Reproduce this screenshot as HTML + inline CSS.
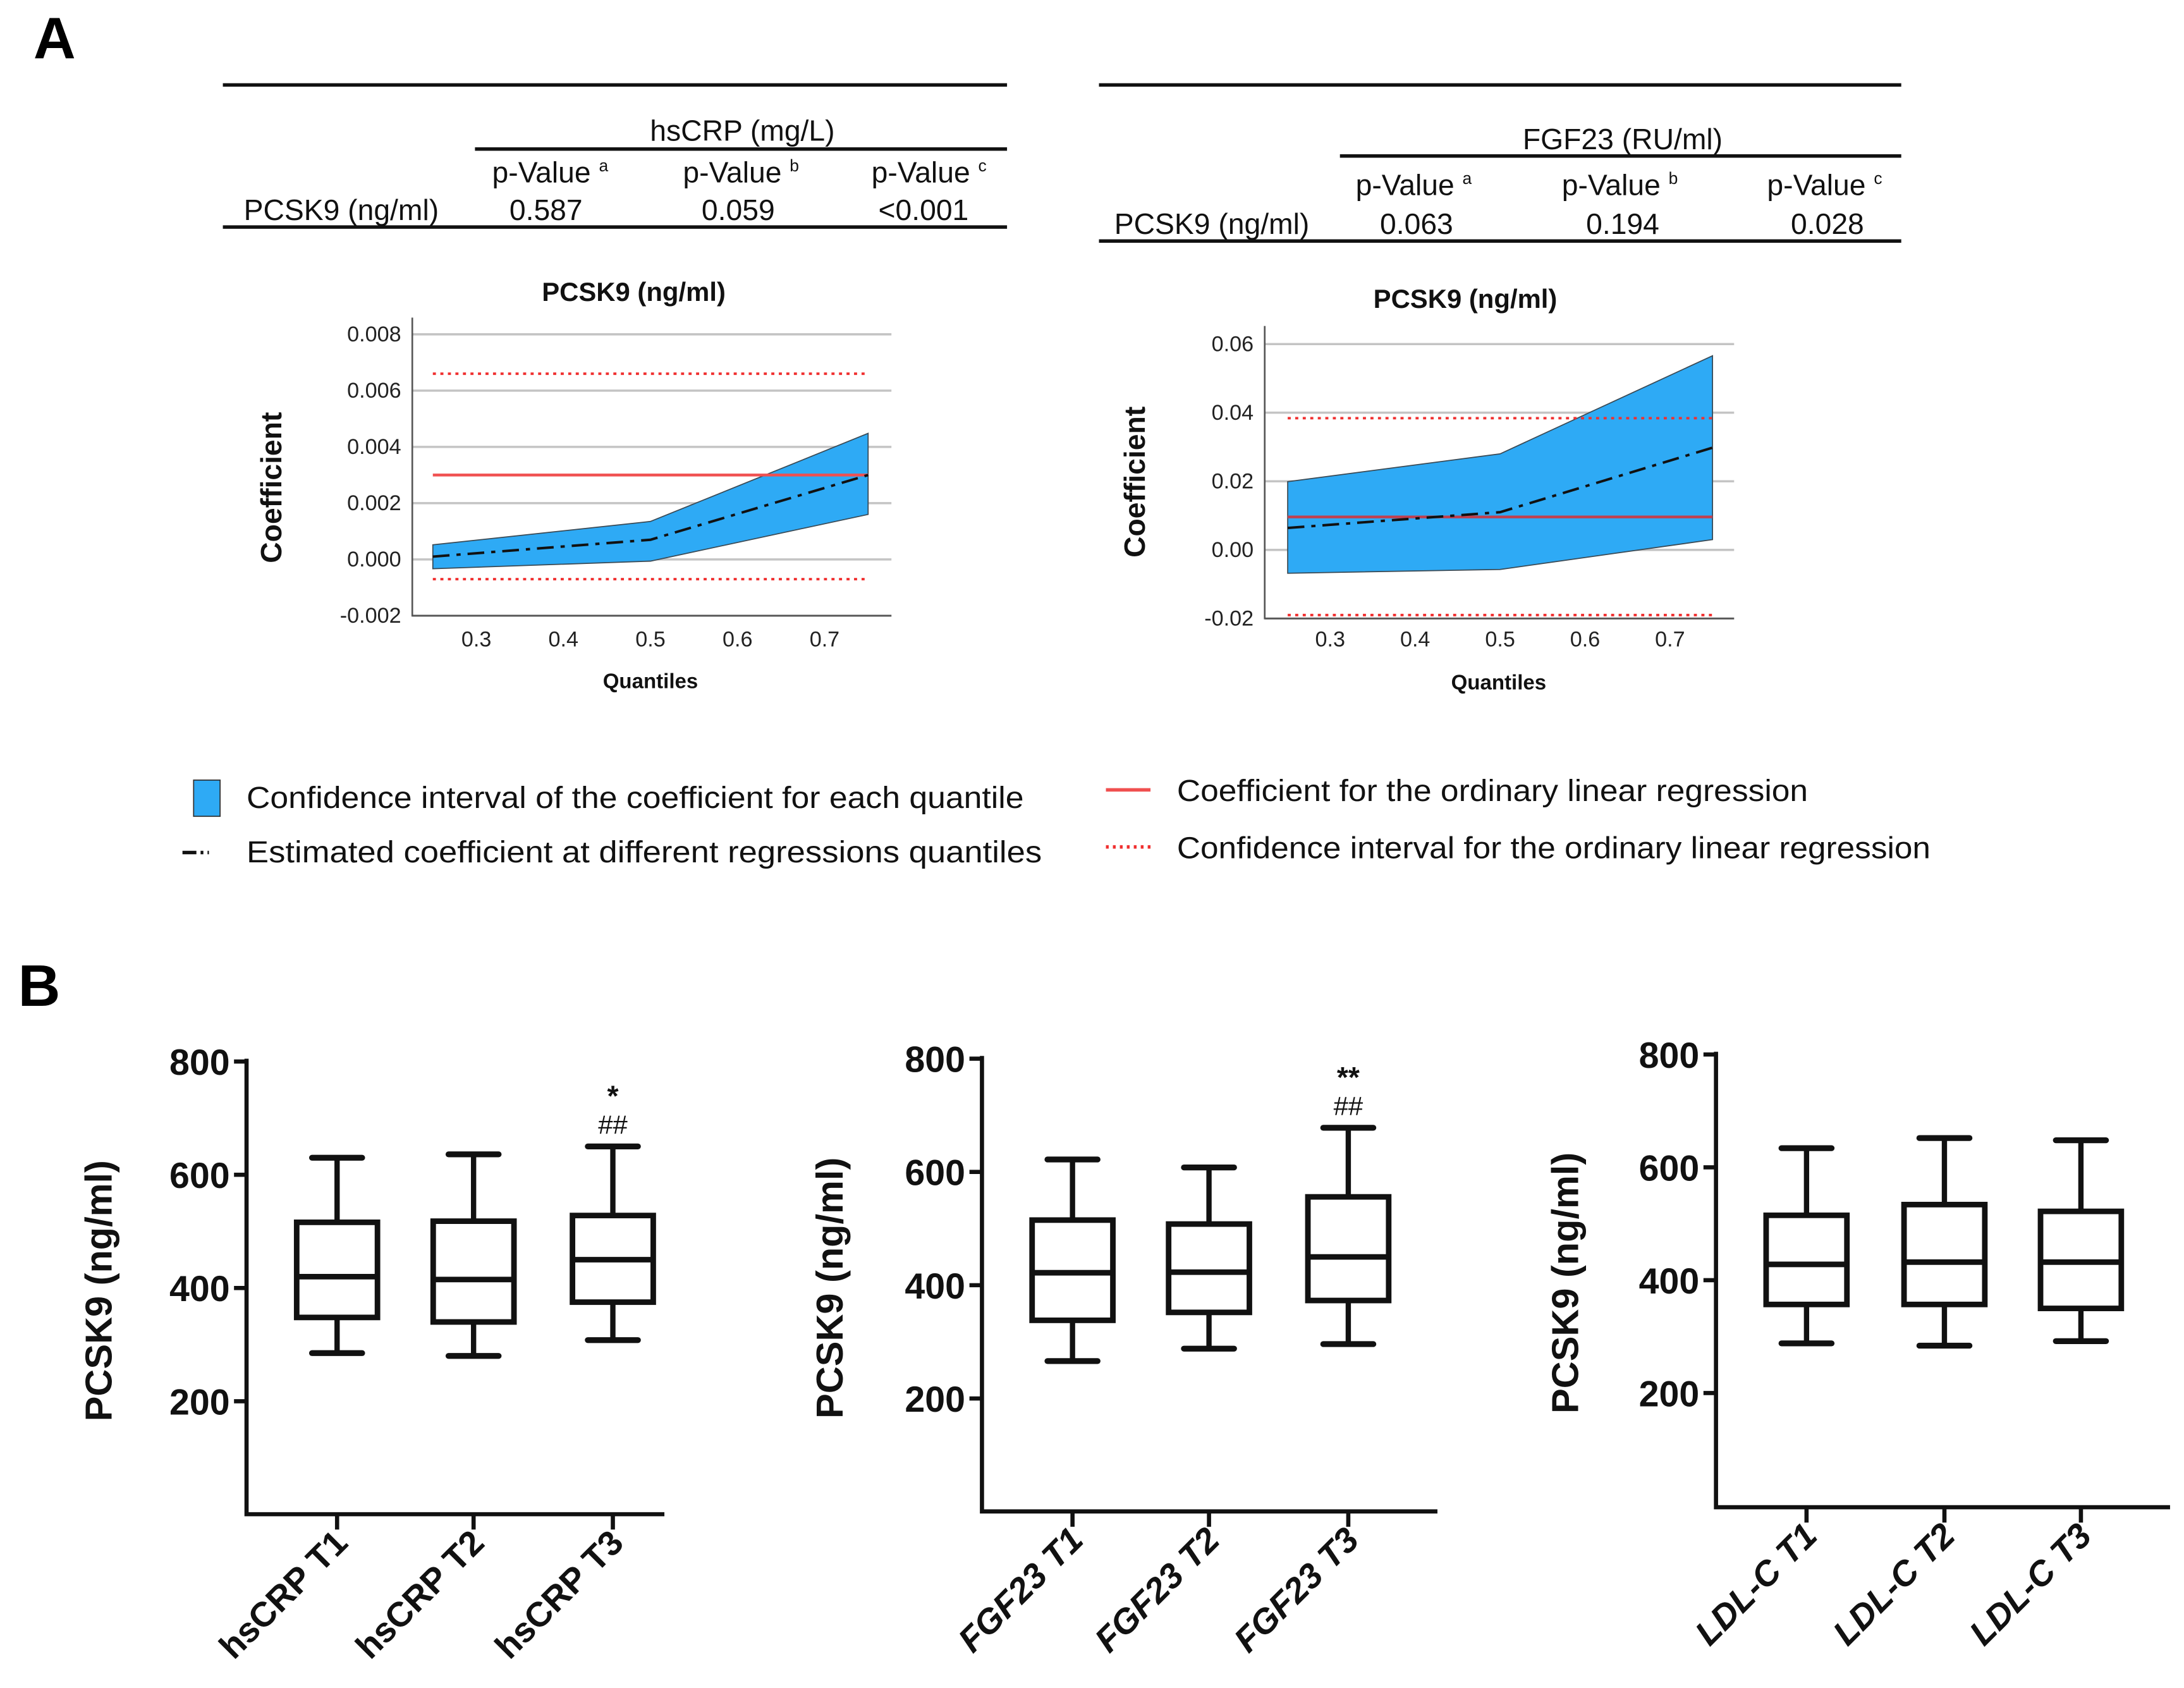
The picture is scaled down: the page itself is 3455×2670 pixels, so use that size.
<!DOCTYPE html>
<html><head><meta charset="utf-8">
<style>
html,body{margin:0;padding:0;background:#fff;}
svg{display:block;}
.t{font-family:"Liberation Sans Narrow","Liberation Sans",sans-serif;}
.b{font-family:"Liberation Sans",sans-serif;font-weight:bold;}
</style></head>
<body>
<svg id="fig" width="3455" height="2670" viewBox="0 0 1568 1211.75" xmlns="http://www.w3.org/2000/svg">
<rect x="0" y="0" width="1568" height="1212" fill="#fff"/>
<text class="b" x="24" y="42" font-size="42">A</text>
<text class="b" x="13" y="722" font-size="42">B</text>

<g class="t" font-size="21" fill="#111">
<line x1="160" y1="61" x2="723" y2="61" stroke="#111" stroke-width="2.5"/>
<text x="533" y="101" text-anchor="middle">hsCRP (mg/L)</text>
<line x1="341" y1="107" x2="723" y2="107" stroke="#111" stroke-width="2.5"/>
<text x="395" y="131" text-anchor="middle">p-Value <tspan font-size="12" dy="-8">a</tspan></text>
<text x="532" y="131" text-anchor="middle">p-Value <tspan font-size="12" dy="-8">b</tspan></text>
<text x="667" y="131" text-anchor="middle">p-Value <tspan font-size="12" dy="-8">c</tspan></text>
<text x="175" y="158">PCSK9 (ng/ml)</text>
<text x="392" y="158" text-anchor="middle">0.587</text>
<text x="530" y="158" text-anchor="middle">0.059</text>
<text x="663" y="158" text-anchor="middle">&lt;0.001</text>
<line x1="160" y1="163" x2="723" y2="163" stroke="#111" stroke-width="2.5"/>
</g>
<g class="t" font-size="21" fill="#111">
<line x1="789" y1="61" x2="1365" y2="61" stroke="#111" stroke-width="2.5"/>
<text x="1165" y="107" text-anchor="middle">FGF23 (RU/ml)</text>
<line x1="962" y1="112" x2="1365" y2="112" stroke="#111" stroke-width="2.5"/>
<text x="1015" y="140" text-anchor="middle">p-Value <tspan font-size="12" dy="-8">a</tspan></text>
<text x="1163" y="140" text-anchor="middle">p-Value <tspan font-size="12" dy="-8">b</tspan></text>
<text x="1310" y="140" text-anchor="middle">p-Value <tspan font-size="12" dy="-8">c</tspan></text>
<text x="800" y="168">PCSK9 (ng/ml)</text>
<text x="1017" y="168" text-anchor="middle">0.063</text>
<text x="1165" y="168" text-anchor="middle">0.194</text>
<text x="1312" y="168" text-anchor="middle">0.028</text>
<line x1="789" y1="173" x2="1365" y2="173" stroke="#111" stroke-width="2.5"/>
</g>

<g id="qr1"></g>
<g id="qr2"></g>

<g class="t" font-size="22" fill="#111">
<g>
<rect x="139" y="560" width="19" height="26" fill="#2eaaf5" stroke="#333" stroke-width="0.8"/>
<text x="177" y="580" textLength="558" lengthAdjust="spacingAndGlyphs">Confidence interval of the coefficient for each quantile</text></g>
<g>
<line x1="131" y1="612" x2="150" y2="612" stroke="#111" stroke-width="2.5" stroke-dasharray="10 3 2 3"/>
<text x="177" y="619" textLength="571" lengthAdjust="spacingAndGlyphs">Estimated coefficient  at different  regressions quantiles</text></g>
<g>
<line x1="794" y1="567" x2="826" y2="567" stroke="#f05050" stroke-width="2.5"/>
<text x="845" y="575" textLength="453" lengthAdjust="spacingAndGlyphs">Coefficient for the ordinary linear regression</text></g>
<g>
<line x1="794" y1="608" x2="826" y2="608" stroke="#f03030" stroke-width="2.5" stroke-dasharray="2 3"/>
<text x="845" y="616" textLength="541" lengthAdjust="spacingAndGlyphs">Confidence interval for the ordinary linear regression</text></g>
</g>

<g id="bp1"></g>
<g id="bp2"></g>
<g id="bp3"></g>
</svg>
<script>
// ---- Quantile regression chart data ----
const qTicks = [0.3, 0.4, 0.5, 0.6, 0.7];
const qPoints = [0.25, 0.5, 0.75];
const hsUpper = [0.00052, 0.00135, 0.00448];
const hsLower = [-0.00033, -0.00006, 0.0016];
const hsEst = [0.0001, 0.0007, 0.003];
const hsOls = 0.003;
const hsOlsCI = [0.0066, -0.0007];
const hsYTicks = [-0.002, 0.000, 0.002, 0.004, 0.006, 0.008];
const hsYLabels = ["-0.002", "0.000", "0.002", "0.004", "0.006", "0.008"];
const fgUpper = [0.0199, 0.028, 0.0566];
const fgLower = [-0.0068, -0.0057, 0.003];
const fgEst = [0.0064, 0.011, 0.0298];
const fgOls = 0.0096;
const fgOlsCI = [0.0384, -0.019];
const fgYTicks = [-0.02, 0.00, 0.02, 0.04, 0.06];
const fgYLabels = ["-0.02", "0.00", "0.02", "0.04", "0.06"];

// ---- Box plot data: [whiskerMax, Q3, median, Q1, whiskerMin] ----
const bpTicks = [200, 400, 600, 800];
const hsCats = ["hsCRP T1", "hsCRP T2", "hsCRP T3"];
const hsBoxes = [[630, 516, 420, 348, 285], [636, 518, 415, 340, 280], [650, 528, 450, 375, 308]];
const fgCats = ["FGF23 T1", "FGF23 T2", "FGF23 T3"];
const fgBoxes = [[622, 515, 422, 338, 266], [608, 508, 423, 352, 288], [678, 556, 450, 373, 296]];
const ldCats = ["LDL-C T1", "LDL-C T2", "LDL-C T3"];
const ldBoxes = [[634, 515, 428, 357, 288], [652, 534, 432, 357, 284], [648, 522, 432, 350, 292]];
const fgAnnot = ["", "", "**"];
const hsAnnot = ["", "", "*"];
const ldAnnot = ["", "", ""];

const NS = "http://www.w3.org/2000/svg";
function mk(parent, tag, attrs, text) {
  const e = document.createElementNS(NS, tag);
  for (const k in attrs) e.setAttribute(k, attrs[k]);
  if (text !== undefined) e.textContent = text;
  parent.appendChild(e);
  return e;
}

function quantChart(g, o) {
  const yS = v => o.y0 + (v - o.v0) / (o.v1 - o.v0) * (o.y1 - o.y0);
  const xS = q => o.xA + (q - 0.3) / 0.4 * (o.xB - o.xA);
  o.yTicks.forEach((v, i) => {
    const gl = mk(g, "line", {x1: o.ax, x2: o.right, y1: yS(v), y2: yS(v), stroke: "#c4c4c4", "stroke-width": 1.6});
    
    
    const tl = mk(g, "text", {x: o.ax - 8, y: yS(v) + 5, "text-anchor": "end", "font-size": 15.5, class: "t", fill: "#222"}, o.yLabels[i]);
    
    
  });
  qTicks.forEach(q => {
    const tl = mk(g, "text", {x: xS(q), y: o.xl, "text-anchor": "middle", "font-size": 15.5, class: "t", fill: "#222"}, q.toFixed(1));
    
    
  });
  const pts = qPoints.map((q, i) => xS(q) + "," + yS(o.up[i])).concat(qPoints.slice().reverse().map((q, j) => xS(q) + "," + yS(o.lo[qPoints.length - 1 - j])));
  const band = mk(g, "polygon", {points: pts.join(" "), fill: "#2eaaf5", stroke: "#3a4a55", "stroke-width": 0.8});
  
  
  [o.ci[0], o.ci[1]].forEach(v => {
    const l = mk(g, "line", {x1: xS(0.25), x2: xS(0.75), y1: yS(v), y2: yS(v), stroke: "#f03030", "stroke-width": 1.8, "stroke-dasharray": "2.2 3.2"});
    
    
  });
  const ol = mk(g, "line", {x1: xS(0.25), x2: xS(0.75), y1: yS(o.ols), y2: yS(o.ols), stroke: o.olsColor, "stroke-width": 2});
  
  
  const est = mk(g, "polyline", {points: qPoints.map((q, i) => xS(q) + "," + yS(o.est[i])).join(" "), fill: "none", stroke: "#111", "stroke-width": 1.8, "stroke-dasharray": "12 5 3 5"});
  
  
  const ax = mk(g, "path", {d: `M${o.ax},${o.top} V${o.y0} H${o.right}`, fill: "none", stroke: "#555", "stroke-width": 1.2});
  
  
  const t = mk(g, "text", {x: o.tx, y: o.ty, "text-anchor": "middle", "font-size": 19, class: "t", "font-weight": "bold", fill: "#111"}, "PCSK9 (ng/ml)");
  
  
  const qx = mk(g, "text", {x: o.qx, y: o.qy, "text-anchor": "middle", "font-size": 15, class: "t", "font-weight": "bold", fill: "#111"}, "Quantiles");
  
  
  const cy = mk(g, "text", {x: 0, y: 0, transform: `translate(${o.cx},${o.cy}) rotate(-90)`, "text-anchor": "middle", "font-size": 21, class: "b", fill: "#111"}, "Coefficient");
  
  
}

quantChart(document.getElementById("qr1"), {v0: -0.002, v1: 0.008, y0: 442, y1: 240, ax: 296, right: 640, top: 228, xA: 342, xB: 592, xl: 464,
  yTicks: hsYTicks, yLabels: hsYLabels, up: hsUpper, lo: hsLower, est: hsEst, ols: hsOls, ci: hsOlsCI, olsColor: "#f05050",
  tx: 455, ty: 216, qx: 467, qy: 494, cx: 202, cy: 350});
quantChart(document.getElementById("qr2"), {v0: -0.02, v1: 0.06, y0: 444, y1: 247, ax: 908, right: 1245, top: 234, xA: 955, xB: 1199, xl: 464,
  yTicks: fgYTicks, yLabels: fgYLabels, up: fgUpper, lo: fgLower, est: fgEst, ols: fgOls, ci: fgOlsCI, olsColor: "#c0404f",
  tx: 1052, ty: 221, qx: 1076, qy: 495, cx: 822, cy: 346});

function boxPlot(g, o) {
  const Y = v => o.y800 + (800 - v) / 200 * o.step;
  const ax = mk(g, "path", {d: `M${o.ax},${o.y800 - 2} V${o.yBase} H${o.right}`, fill: "none", stroke: "#111", "stroke-width": 3});
  
  
  bpTicks.forEach(v => {
    const tk = mk(g, "line", {x1: o.ax - 9, x2: o.ax, y1: Y(v), y2: Y(v), stroke: "#111", "stroke-width": 3});
    
    
    const tl = mk(g, "text", {x: o.ax - 12, y: Y(v) + 9.5, "text-anchor": "end", "font-size": 26, class: "b", fill: "#111"}, String(v));
    
    
  });
  const yt = mk(g, "text", {x: 0, y: 0, transform: `translate(${o.tx},${Y(400) + 2}) rotate(-90)`, "text-anchor": "middle", "font-size": 27, class: "b", fill: "#111"}, "PCSK9 (ng/ml)");
  
  
  o.cats.forEach((c, i) => {
    const x = o.xs[i], d = o.boxes[i], w = 29, cw = 18;
    const tk = mk(g, "line", {x1: x, x2: x, y1: o.yBase, y2: o.yBase + 11, stroke: "#111", "stroke-width": 3});
    
    
    const lb = mk(g, "text", {x: 0, y: 0, transform: `translate(${x + 9},${o.yBase + 22}) rotate(-45)`, "text-anchor": "end", "font-size": 25, class: "b", "font-style": o.italic ? "italic" : "normal", fill: "#111"}, c);
    
    
    const bx = mk(g, "g", {});
    
    
    mk(bx, "line", {x1: x, x2: x, y1: Y(d[0]), y2: Y(d[1]), stroke: "#111", "stroke-width": 3.8});
    mk(bx, "line", {x1: x, x2: x, y1: Y(d[3]), y2: Y(d[4]), stroke: "#111", "stroke-width": 3.8});
    mk(bx, "line", {x1: x - cw, x2: x + cw, y1: Y(d[0]), y2: Y(d[0]), stroke: "#111", "stroke-width": 4.2, "stroke-linecap": "round"});
    mk(bx, "line", {x1: x - cw, x2: x + cw, y1: Y(d[4]), y2: Y(d[4]), stroke: "#111", "stroke-width": 4.2, "stroke-linecap": "round"});
    mk(bx, "rect", {x: x - w, y: Y(d[1]), width: 2 * w, height: Y(d[3]) - Y(d[1]), fill: "#fff", stroke: "#111", "stroke-width": 4});
    mk(bx, "line", {x1: x - w, x2: x + w, y1: Y(d[2]), y2: Y(d[2]), stroke: "#111", "stroke-width": 4});
    if (o.annot[i]) {
      const a1 = mk(g, "text", {x: x, y: Y(d[0]) - 29, "text-anchor": "middle", "font-size": 21, class: "b", fill: "#111"}, o.annot[i]);
      
      
      const a2 = mk(g, "text", {x: x, y: Y(d[0]) - 9, "text-anchor": "middle", "font-size": 19, class: "t", fill: "#111"}, "##");
      
      
    }
  });
}
boxPlot(document.getElementById("bp1"), {ax: 177, right: 477, y800: 762, step: 81.3, yBase: 1087, tx: 80, xs: [242, 340, 440], cats: hsCats, boxes: hsBoxes, annot: hsAnnot, italic: false});
boxPlot(document.getElementById("bp2"), {ax: 705, right: 1032, y800: 760, step: 81.3, yBase: 1085, tx: 605, xs: [770, 868, 968], cats: fgCats, boxes: fgBoxes, annot: fgAnnot, italic: true});
boxPlot(document.getElementById("bp3"), {ax: 1232, right: 1558, y800: 757, step: 81, yBase: 1082, tx: 1133, xs: [1297, 1396, 1494], cats: ldCats, boxes: ldBoxes, annot: ldAnnot, italic: true});
</script>
</body></html>
